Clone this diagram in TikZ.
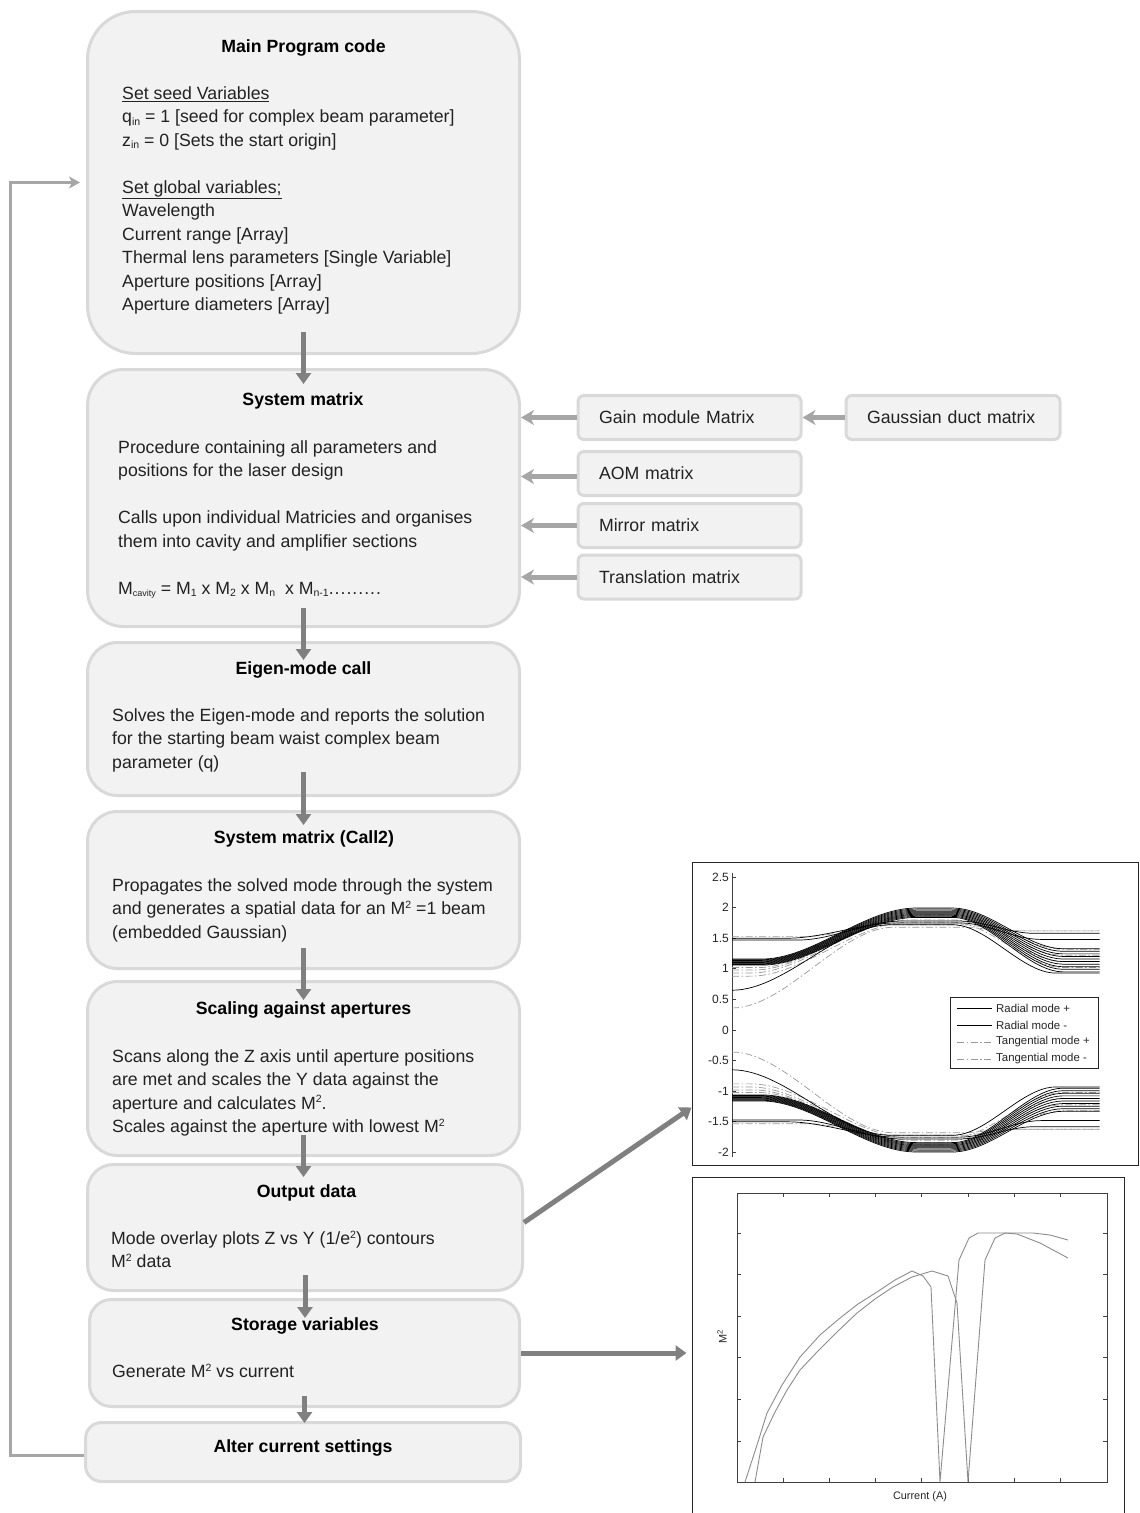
\documentclass[tikz,border=0pt]{standalone}
\usepackage{fontspec}
\setmainfont{Liberation Sans}
\usetikzlibrary{arrows.meta,positioning,calc}

\definecolor{boxfill}{HTML}{F2F2F2}
\definecolor{boxline}{HTML}{D9D9D9}
\definecolor{flowgray}{HTML}{808080}
\definecolor{sidegray}{HTML}{A6A6A6}
\definecolor{textgray}{HTML}{222222}
\definecolor{curvegray}{HTML}{8C8C8C}

\newcommand{\subtxt}[2][10.5]{\raisebox{-2.5pt}{\fontsize{#1}{#1}\selectfont #2}}
\newcommand{\suptxt}[1]{\raisebox{6.5pt}{\fontsize{10.5}{10.5}\selectfont #1}}

\tikzset{
  declare function={
    ss(\qt)=(min(max(\qt,0),1))^2*(3-2*min(max(\qt,0),1));
    beam(\qz,\qL,\qP,\qR,\qA,\qB,\qC,\qD)=\qL+(\qP-\qL)*ss((\qz-\qA)/(\qB-\qA))+(\qR-\qP)*ss((\qz-\qC)/(\qD-\qC));
  },
  flowbox/.style={draw=boxline, fill=boxfill, line width=3pt, minimum width=432pt, inner sep=0},
  matbox/.style={draw=boxline, fill=boxfill, line width=3pt, rounded corners=6pt, minimum height=44pt,
    inner xsep=21pt, inner ysep=0, align=left, text=textgray, font=\fontsize{17.7}{21}\selectfont},
  boxtitle/.style={font=\fontsize{17.7}{21}\selectfont\bfseries, text=black, anchor=base, inner sep=0},
  boxbody/.style={font=\fontsize{17.7}{23.45}\selectfont, text=textgray, align=left, anchor=north west, inner sep=0},
  flowarrow/.style={draw=flowgray, line width=5pt, -{Triangle[width=15pt,length=11pt]}},
  sidearrow/.style={draw=sidegray, line width=5pt, -{Stealth[width=15pt,length=13pt,inset=4pt]}},
  loopline/.style={draw=sidegray, line width=3pt, -{Stealth[width=12pt,length=11pt,inset=3pt]}},
  plotframe/.style={draw=black!85, line width=1pt, inner sep=0},
  axisline/.style={draw=black!75, line width=0.8pt},
  ticklabel/.style={font=\fontsize{12}{12}\selectfont, text=black!85, anchor=east, inner sep=0, xshift=-3pt},
  radline/.style={draw=black, line width=0.7pt},
  tanline/.style={draw=black!40, line width=0.7pt, dash pattern=on 7pt off 2.5pt on 1.5pt off 2.5pt},
  legendtext/.style={font=\fontsize{11.4}{12}\selectfont, text=black!85, anchor=west, inner sep=0},
  mcurve/.style={draw=curvegray, line width=0.9pt, line join=round},
  smalllabel/.style={font=\fontsize{10.9}{12}\selectfont, text=black!85, inner sep=0}
}

\begin{document}
\begin{tikzpicture}[x=1pt, y=-1pt]
\useasboundingbox (0,0) rectangle (1140,1513);
\fill[white] (0,0) rectangle (1140,1513);

% Main flow boxes
\node[flowbox, minimum height=342pt, rounded corners=48pt] (mainbox) at (303.5,182.5) {};
\node[flowbox, minimum height=257pt, rounded corners=36pt] (sysbox) at (303.5,498) {};
\node[flowbox, minimum height=153pt, rounded corners=30pt] (eigenbox) at (303.5,719) {};
\node[flowbox, minimum height=157pt, rounded corners=30pt] (calltwobox) at (303.5,890) {};
\node[flowbox, minimum height=174pt, rounded corners=30pt] (scalebox) at (303.5,1068.5) {};
\node[flowbox, minimum width=435pt, minimum height=126pt, rounded corners=26pt] (outbox) at (305,1227.5) {};
\node[flowbox, minimum width=430pt, minimum height=107pt, rounded corners=22pt] (storebox) at (304.5,1353) {};
\node[flowbox, minimum width=435pt, minimum height=59pt, rounded corners=16pt] (alterbox) at (303,1452) {};

% Titles
\node[boxtitle] (maintitle) at (303.5,52.5) {Main Program code};
\node[boxtitle] (systitle) at (303,405.5) {System matrix};
\node[boxtitle] (eigentitle) at (303.5,674.5) {Eigen-mode call};
\node[boxtitle] (calltwotitle) at (304,843.5) {System matrix (Call2)};
\node[boxtitle] (scaletitle) at (303.5,1014.5) {Scaling against apertures};
\node[boxtitle] (outtitle) at (306.5,1197.5) {Output data};
\node[boxtitle] (storetitle) at (305,1330.5) {Storage variables};
\node[boxtitle] (altertitle) at (303,1452.5) {Alter current settings};

% Box texts
\node[boxbody] (maintext) at (122,86.5) {\underline{Set seed Variables}\\
  q\subtxt{in} = 1 [seed for complex beam parameter]\\
  z\subtxt{in} = 0 [Sets the start origin]\\[23.45pt]
  \underline{Set global variables;}\\
  Wavelength\\
  Current range [Array]\\
  Thermal lens parameters [Single Variable]\\
  Aperture positions [Array]\\
  Aperture diameters [Array]};
\node[boxbody] (systext) at (118,440.5) {Procedure containing all parameters and\\
  positions for the laser design\\[23.45pt]
  Calls upon individual Matricies and organises\\
  them into cavity and amplifier sections\\[23.45pt]
  M\subtxt[9]{cavity} = M\subtxt{1} x M\subtxt{2} x M\subtxt{n}\ \ x M\subtxt{n-1}.\kern1pt.\kern1pt.\kern1pt.\kern1pt.\kern1pt.\kern1pt.\kern1pt.\kern1pt.};
\node[boxbody] (eigentext) at (112,708.5) {Solves the Eigen-mode and reports the solution\\
  for the starting beam waist complex beam\\
  parameter (q)};
\node[boxbody] (calltwotext) at (112,878.5) {Propagates the solved mode through the system\\
  and generates a spatial data for an M\suptxt{2} =1 beam\\
  (embedded Gaussian)};
\node[boxbody] (scaletext) at (112,1049.5) {Scans along the Z axis until aperture positions\\
  are met and scales the Y data against the\\
  aperture and calculates M\suptxt{2}.\\
  Scales against the aperture with lowest M\suptxt{2}};
\node[boxbody] (outtext) at (111,1230.5) {Mode overlay plots Z vs Y (1/e\suptxt{2}) contours\\
  M\suptxt{2} data};
\node[boxbody] (storetext) at (112,1363.5) {Generate M\suptxt{2} vs current};

% Matrix boxes
\node[matbox, minimum width=223pt, text width=181pt] (gainbox) at (689.5,417.5) {Gain module Matrix};
\node[matbox, minimum width=214pt, text width=172pt] (gaussbox) at (953,417.5) {Gaussian duct matrix};
\node[matbox, minimum width=223pt, text width=181pt] (aombox) at (689.5,473.5) {AOM matrix};
\node[matbox, minimum width=223pt, text width=181pt] (mirrorbox) at (689.5,525.5) {Mirror matrix};
\node[matbox, minimum width=223pt, text width=181pt] (transbox) at (689.5,577) {Translation matrix};

\draw[sidearrow] (gaussbox.west) -- (gainbox.east);
\draw[sidearrow] (gainbox.west) -- (gainbox.west -| sysbox.east);
\draw[sidearrow] ([yshift=-3pt]aombox.west) -- ([yshift=-3pt]aombox.west -| sysbox.east);
\draw[sidearrow] (mirrorbox.west) -- (mirrorbox.west -| sysbox.east);
\draw[sidearrow] (transbox.west) -- (transbox.west -| sysbox.east);

% Flow arrows
\draw[flowarrow] ([yshift=23pt]mainbox.south) -- ([yshift=-16pt]sysbox.north);
\draw[flowarrow] ([yshift=20pt]sysbox.south) -- ([yshift=-19pt]eigenbox.north);
\draw[flowarrow] ([yshift=25pt]eigenbox.south) -- ([yshift=-15pt]calltwobox.north);
\draw[flowarrow] ([yshift=22pt]calltwobox.south) -- ([yshift=-20pt]scalebox.north);
\draw[flowarrow] ([yshift=22pt]scalebox.south) -- ([yshift=-14pt]scalebox.south |- outbox.north);
\draw[flowarrow] ([yshift=17pt]outbox.south) -- ([yshift=-20pt]outbox.south |- storebox.north);
\draw[flowarrow] ([yshift=12pt]storebox.south) -- ([yshift=-2pt]storebox.south |- alterbox.north);

% Loop back
\draw[loopline] ([yshift=-3pt]alterbox.west) -- ++(-74,0) |- ([xshift=-6pt]mainbox.west);

% Mode overlay plot
\node[plotframe, minimum width=446pt, minimum height=303pt] (plotone) at (915,1013.5) {};
\draw[flowarrow] ([yshift=5pt]outbox.east) -- ([yshift=58pt]plotone.south west);
\begin{scope}[shift={(732,1030)}, x=368pt, y=61.2pt]
  \draw[axisline] (0,-2.08) -- (0,2.56);
  \foreach \v [count=\k] in {2.5,2,1.5,1,0.5,0,-0.5,-1,-1.5,-2}{
    \draw[axisline] (0,\v) -- ++(4pt,0);
    \node[ticklabel] (ytick\k) at (0,\v) {\v};
  }
  \foreach \sg in {1,-1}{
    % tangential mode
    \foreach \Lv/\Pv/\Rv/\Av/\Bv/\Cv/\Dv in {0.36/1.68/1.62/0/0.44/0.62/0.76,
        0.88/1.76/1.02/0.05/0.48/0.6/0.9, 0.93/1.80/1.12/0.05/0.48/0.6/0.9,
        0.98/1.84/1.22/0.06/0.48/0.6/0.9, 1.02/1.88/1.32/0.07/0.49/0.6/0.9,
        1.53/1.72/1.62/0.2/0.44/0.62/0.78}
      \draw[tanline] plot[domain=0:1, samples=70] (\x,{\sg*beam(\x,\Lv,\Pv,\Rv,\Av,\Bv,\Cv,\Dv)});
    % radial mode
    \foreach \Lv/\Pv/\Rv/\Av/\Bv/\Cv/\Dv in {0.65/1.72/0.93/0/0.43/0.6/0.88,
        1.47/1.78/1.58/0.18/0.46/0.62/0.82, 1.50/1.75/1.48/0.15/0.45/0.62/0.84}
      \draw[radline] plot[domain=0:1, samples=70] (\x,{\sg*beam(\x,\Lv,\Pv,\Rv,\Av,\Bv,\Cv,\Dv)});
    \foreach \i in {0,...,9}
      \draw[radline] plot[domain=0:1, samples=70] (\x,{\sg*beam(\x,1.06+0.011*\i,1.84+0.017*\i,0.95+0.042*\i,0.08,0.5,0.6,0.9)});
  }
\end{scope}
\node[plotframe, fill=white, minimum width=148pt, minimum height=71pt] (legendbox) at (1024,1032.5) {};
\foreach \ty/\lab [count=\k] in {1008/Radial mode +, 1025/Radial mode -}{
  \draw[radline] (957,\ty) -- (992,\ty);
  \node[legendtext] (radlegend\k) at (996,\ty) {\lab};
}
\foreach \ty/\lab [count=\k] in {1042/Tangential mode +, 1059/Tangential mode -}{
  \draw[tanline] (957,\ty) -- (992,\ty);
  \node[legendtext] (tanlegend\k) at (996,\ty) {\lab};
}

% M2 vs current plot
\node[plotframe, minimum width=432pt, minimum height=343pt] (plottwo) at (908,1348.5) {};
\draw[flowarrow] (storebox.east) -- ([xshift=-5pt]storebox.east -| plottwo.west);
\draw[axisline] (737,1193) rectangle (1107,1482);
\foreach \tx in {783,829,875,921,968,1014,1060}{
  \draw[axisline] (\tx,1193) -- ++(0,4);
  \draw[axisline] (\tx,1482) -- ++(0,-4);
}
\foreach \tyy in {1233,1274,1316,1357,1399,1441}{
  \draw[axisline] (737,\tyy) -- ++(4,0);
  \draw[axisline] (1107,\tyy) -- ++(-4,0);
}
\draw[mcurve] (745,1482) -- (757,1445) -- (767,1413) -- (782,1385) -- (800,1357) -- (820,1335)
  -- (840,1318) -- (858,1304) -- (877,1292) -- (895,1280) -- (912,1271) -- (923,1276) -- (931,1287)
  -- (940,1482) -- (959,1260) -- (969,1238) -- (978,1233) -- (1033,1233) -- (1050,1235) -- (1068,1240);
\draw[mcurve] (755,1482) -- (763,1437) -- (775,1412) -- (787,1390) -- (800,1370) -- (817,1352)
  -- (837,1332) -- (857,1313) -- (875,1299) -- (893,1287) -- (912,1277) -- (932,1271) -- (948,1276)
  -- (957,1303) -- (968,1482) -- (985,1260) -- (995,1238) -- (1005,1233) -- (1017,1234) -- (1040,1243)
  -- (1068,1258);
\node[smalllabel, rotate=90] (mlabel) at (722,1337) {M\textsuperscript{2}};
\node[smalllabel] (currentlabel) at (920,1497) {Current (A)};
\end{tikzpicture}
\end{document}
